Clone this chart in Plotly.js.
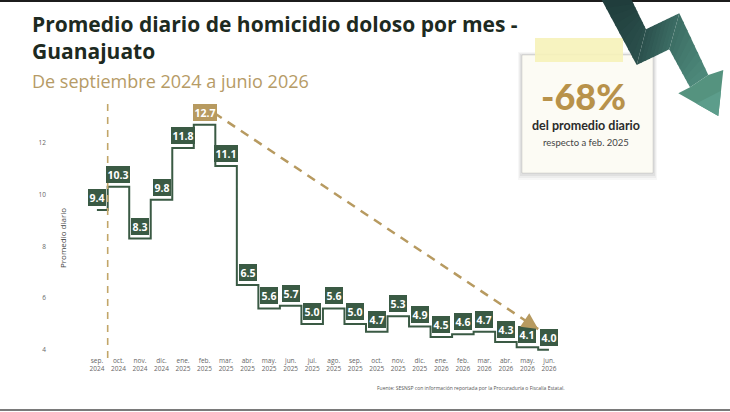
<!DOCTYPE html>
<html>
<head>
<meta charset="utf-8">
<script src="https://cdn.plot.ly/plotly-3.0.1.min.js"></script>
<style>html,body{margin:0;padding:0;background:#fff;}#chart{width:730px;height:412px;}</style>
</head>
<body>
<div id="chart"></div>
<script>
// ---- data ----
const months = ['sep.','oct.','nov.','dic.','ene.','feb.','mar.','abr.','may.','jun.','jul.','ago.','sep.','oct.','nov.','dic.','ene.','feb.','mar.','abr.','may.','jun.'];
const years = [2024,2024,2024,2024,2025,2025,2025,2025,2025,2025,2025,2025,2025,2025,2025,2025,2026,2026,2026,2026,2026,2026];
const values = [9.4,10.3,8.3,9.8,11.8,12.7,11.1,6.5,5.6,5.7,5.0,5.6,5.0,4.7,5.3,4.9,4.5,4.6,4.7,4.3,4.1,4.0];
const yTicks = [4,6,8,10,12];

// ---- helpers (figure pixel -> paper) ----
const W = 730, H = 412;
const px = x => x / W;
const py = y => 1 - y / H;

const idx = values.map((_, i) => i);
const tickText = months.map((m, i) => m + '<br>' + years[i]);
const iMax = values.indexOf(Math.max(...values));
const iLast = values.length - 1;

const GREEN = '#3a5a44';
const GOLD = '#b79a60';

const trace = {
  x: idx, y: values, type: 'scatter', mode: 'lines',
  line: {shape: 'hvh', color: GREEN, width: 2},
  hoverinfo: 'skip', showlegend: false
};

const annotations = values.map((v, i) => ({
  x: i, y: v, xref: 'x', yref: 'y',
  text: '<b>' + v.toFixed(1) + '</b>',
  showarrow: false, xanchor: 'center', yanchor: 'bottom', yshift: 4,
  font: {family: 'Open Sans', size: 10.5, color: '#ffffff'},
  bgcolor: i === iMax ? GOLD : GREEN,
  bordercolor: i === iMax ? GOLD : GREEN, borderwidth: 1, borderpad: 0.5
}));

// arrowhead at end of trend line
annotations.push({
  x: iLast - 0.5, y: values[iLast] + 0.8, xref: 'x', yref: 'y',
  ax: -8.3, ay: -5.6, text: '', showarrow: true,
  arrowhead: 2, arrowsize: 1.3, arrowwidth: 2.5, arrowcolor: GOLD, standoff: 0
});

// titles and texts
annotations.push(
  {xref: 'paper', yref: 'paper', x: px(30), y: py(38), xanchor: 'left', yanchor: 'middle', showarrow: false, align: 'left',
   text: '<b>Promedio diario de homicidio doloso por mes -<br>Guanajuato</b>', font: {family: 'Open Sans', size: 21, color: '#1d2a21'}},
  {xref: 'paper', yref: 'paper', x: px(30), y: py(81), xanchor: 'left', yanchor: 'middle', showarrow: false,
   text: 'De septiembre 2024 a junio 2026', font: {family: 'Open Sans', size: 18, color: '#b69b66'}},
  {xref: 'paper', yref: 'paper', x: px(62), y: py(238), xanchor: 'center', yanchor: 'middle', showarrow: false,
   textangle: -90, text: 'Promedio diario', font: {family: 'Open Sans', size: 8, color: '#444'}},
  {xref: 'paper', yref: 'paper', x: px(471), y: py(388), xanchor: 'center', yanchor: 'middle', showarrow: false,
   text: 'Fuente: SESNSP con información reportada por la Procuraduría o Fiscalía Estatal.', font: {family: 'Open Sans', size: 5, color: '#555'}},
  {xref: 'paper', yref: 'paper', x: px(583), y: py(96), xanchor: 'center', yanchor: 'middle', showarrow: false,
   text: '-68%', font: {family: 'Lato', size: 36, weight: 900, color: '#b8924a'}},
  {xref: 'paper', yref: 'paper', x: px(586), y: py(126), xanchor: 'center', yanchor: 'middle', showarrow: false,
   text: 'del promedio diario', font: {family: 'Lato', size: 12.5, weight: 700, color: '#2b2b2b'}},
  {xref: 'paper', yref: 'paper', x: px(586), y: py(142), xanchor: 'center', yanchor: 'middle', showarrow: false,
   text: 'respecto a feb. 2025', font: {family: 'Lato', size: 9.5, color: '#444'}}
);

function rect(x0, y0, x1, y1, fill, line) {
  return {type: 'rect', xref: 'paper', yref: 'paper', x0: px(x0), x1: px(x1), y0: py(y1), y1: py(y0),
          fillcolor: fill, line: {width: line ? 1 : 0, color: line || 'rgba(0,0,0,0)'}};
}
function poly(pts, fill) {
  const d = pts.map((p, k) => (k ? 'L' : 'M') + px(p[0]).toFixed(5) + ',' + py(p[1]).toFixed(5)).join(' ') + ' Z';
  return {type: 'path', xref: 'paper', yref: 'paper', path: d, fillcolor: fill, line: {width: 0}};
}
function hex2rgb(h) { return [1, 3, 5].map(k => parseInt(h.substr(k, 2), 16)); }
function mix(a, b, t) {
  const A = hex2rgb(a), B = hex2rgb(b);
  return 'rgb(' + A.map((v, k) => Math.round(v + (B[k] - v) * t)).join(',') + ')';
}
const lerp = (p, q, t) => [p[0] + (q[0] - p[0]) * t, p[1] + (q[1] - p[1]) * t];

// decorative zig-zag arrow, drawn as shaded slices
const A = [601.7, 0], B = [631.7, 0], C = [646, 29.3], D = [679.3, 13.3], E = [708.3, 75],
      F = [723.3, 70], G = [718.3, 116], Hh = [678.3, 93.3], I = [690, 87.3], J = [669.3, 49.3], K = [636.7, 65];
const bands = [
  [[A, B], [K, C], '#1f3c3b', '#2b504c'],
  [[K, C], [J, D], '#2b504c', '#3c6d64'],
  [[J, D], [I, E], '#3c6d64', '#4e8a7b']
];
const arrowShapes = [];
const N = 8;
bands.forEach(([s, e, c0, c1]) => {
  for (let k = 0; k < N; k++) {
    const t0 = k / N, t1 = Math.min(1, (k + 1) / N + 0.03);
    const p0 = lerp(s[0], e[0], t0), p1 = lerp(s[1], e[1], t0), q0 = lerp(s[0], e[0], t1), q1 = lerp(s[1], e[1], t1);
    arrowShapes.push(poly([p0, p1, q1, q0], mix(c0, c1, (k + 0.5) / N)));
  }
});
arrowShapes.push(poly([I, E, F, G, Hh], '#55937f'));
arrowShapes.push(poly([lerp(Hh, G, 0.45), lerp(F, G, 0.45), G], '#5c9d8b'));

const shapes = [
  rect(0, 0, 730, 2, '#1c1c1c'),
  rect(0, 409, 730, 411, '#7a7a7a'),
  // card shadow
  rect(518, 52, 657, 180, 'rgba(0,0,0,0.03)'),
  rect(519, 53, 656, 178, 'rgba(0,0,0,0.04)'),
  rect(520, 54, 655, 176, 'rgba(0,0,0,0.05)'),
  rect(522, 55, 653, 173, '#fcfbf4', 'rgba(0,0,0,0.10)'),
  // tape
  rect(535, 38, 623, 62, 'rgba(246,242,185,0.9)'),
  // vertical dashed line
  {type: 'line', xref: 'x', yref: 'paper', x0: 0.5, x1: 0.5, y0: py(358), y1: py(100),
   line: {color: '#c2a668', width: 1.6, dash: '7px,6px'}},
  // trend dashed line
  {type: 'line', xref: 'x', yref: 'y', x0: iMax + 0.45, y0: values[iMax] + 0.45, x1: iLast - 0.5, y1: values[iLast] + 0.8,
   line: {color: GOLD, width: 2.5, dash: '9px,7px'}}
].concat(arrowShapes);

const layout = {
  width: W, height: H,
  margin: {l: 0, r: 0, t: 0, b: 0},
  paper_bgcolor: '#ffffff', plot_bgcolor: 'rgba(0,0,0,0)',
  showlegend: false,
  xaxis: {domain: [px(50), px(575)], range: [-2.18, 22.21], tickvals: idx, ticktext: tickText,
          showgrid: false, zeroline: false, showline: false, ticks: '',
          tickfont: {family: 'Open Sans', size: 6.5, color: '#666'}, fixedrange: true},
  yaxis: {domain: [py(355), py(105)], range: [3.8, 13.46], tickvals: yTicks,
          showgrid: false, zeroline: false, showline: false, ticks: '', ticklabelstandoff: 3,
          tickfont: {family: 'Open Sans', size: 6.5, color: '#666'}, fixedrange: true},
  shapes: shapes,
  annotations: annotations
};

Plotly.newPlot('chart', [trace], layout, {displayModeBar: false, staticPlot: true});
</script>
</body>
</html>
